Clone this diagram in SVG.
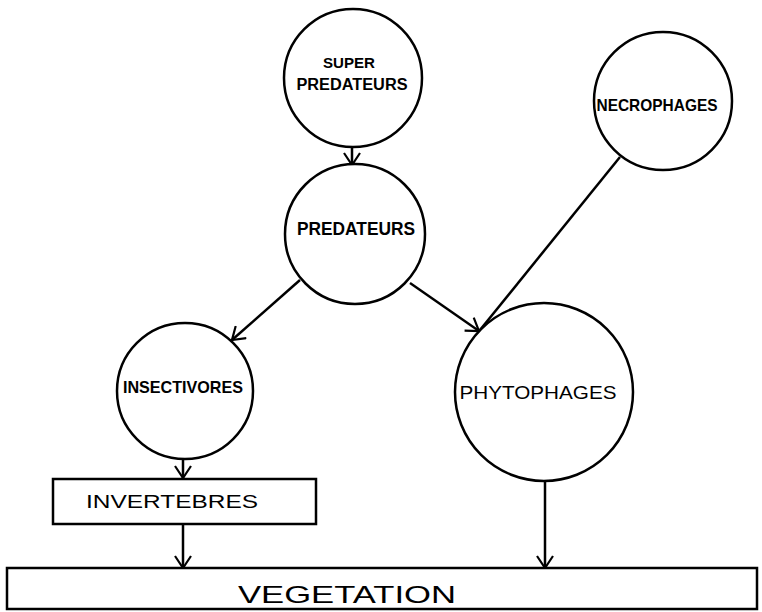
<svg xmlns="http://www.w3.org/2000/svg" width="762" height="612" viewBox="0 0 762 612">
<style>
.node{fill:#fff;stroke:#000;stroke-width:2.5}
.lbl{font-family:"Liberation Sans",Arial,sans-serif;fill:#000}
.b{font-weight:bold}
.edge{fill:none;stroke:#000;stroke-width:2.5}
</style>
<defs>
<marker id="arr" markerUnits="userSpaceOnUse" markerWidth="16" markerHeight="18" viewBox="0 0 16 18" refX="13" refY="9" orient="auto">
<path d="M1,1 L13,9 L1,17" fill="none" stroke="#000" stroke-width="2.2"/>
</marker>
</defs>
<rect width="762" height="612" fill="#fff"/>
<g id="connectors">
<line class="edge" x1="352" y1="148" x2="352" y2="165" marker-end="url(#arr)"/>
<line class="edge" x1="300" y1="280" x2="232" y2="340" marker-end="url(#arr)"/>
<line class="edge" x1="410" y1="283" x2="479" y2="331" marker-end="url(#arr)"/>
<line class="edge" x1="620" y1="157" x2="480" y2="330"/>
<line class="edge" x1="183" y1="459" x2="183" y2="478" marker-end="url(#arr)"/>
<line class="edge" x1="183" y1="524" x2="183" y2="568" marker-end="url(#arr)"/>
<line class="edge" x1="545" y1="482" x2="545" y2="568" marker-end="url(#arr)"/>
</g>
<g id="super-predateurs">
<circle class="node" cx="353" cy="78" r="69"/>
<text class="lbl b" x="349" y="68" font-size="15" text-anchor="middle" textLength="52" lengthAdjust="spacingAndGlyphs">SUPER</text>
<text class="lbl b" x="352" y="90" font-size="16" text-anchor="middle" textLength="111" lengthAdjust="spacingAndGlyphs">PREDATEURS</text>
</g>
<g id="predateurs">
<circle class="node" cx="355" cy="234" r="70"/>
<text class="lbl b" x="356" y="235" font-size="18" text-anchor="middle" textLength="118" lengthAdjust="spacingAndGlyphs">PREDATEURS</text>
</g>
<g id="necrophages">
<circle class="node" cx="663" cy="101" r="69"/>
<text class="lbl b" x="657" y="111" font-size="17" text-anchor="middle" textLength="121" lengthAdjust="spacingAndGlyphs">NECROPHAGES</text>
</g>
<g id="insectivores">
<circle class="node" cx="185" cy="391" r="68"/>
<text class="lbl b" x="183" y="393" font-size="17" text-anchor="middle" textLength="120" lengthAdjust="spacingAndGlyphs">INSECTIVORES</text>
</g>
<g id="phytophages">
<circle class="node" cx="544" cy="392" r="89"/>
<text class="lbl" x="538" y="399" font-size="19" text-anchor="middle" textLength="157" lengthAdjust="spacingAndGlyphs">PHYTOPHAGES</text>
</g>
<g id="invertebres">
<rect class="node" x="53" y="479" width="263" height="45"/>
<text class="lbl" x="172" y="508" font-size="18" text-anchor="middle" textLength="172" lengthAdjust="spacingAndGlyphs">INVERTEBRES</text>
</g>
<g id="vegetation">
<rect class="node" x="7" y="568" width="750" height="41"/>
<text class="lbl" x="347" y="603" font-size="24" text-anchor="middle" textLength="218" lengthAdjust="spacingAndGlyphs">VEGETATION</text>
</g>
</svg>
